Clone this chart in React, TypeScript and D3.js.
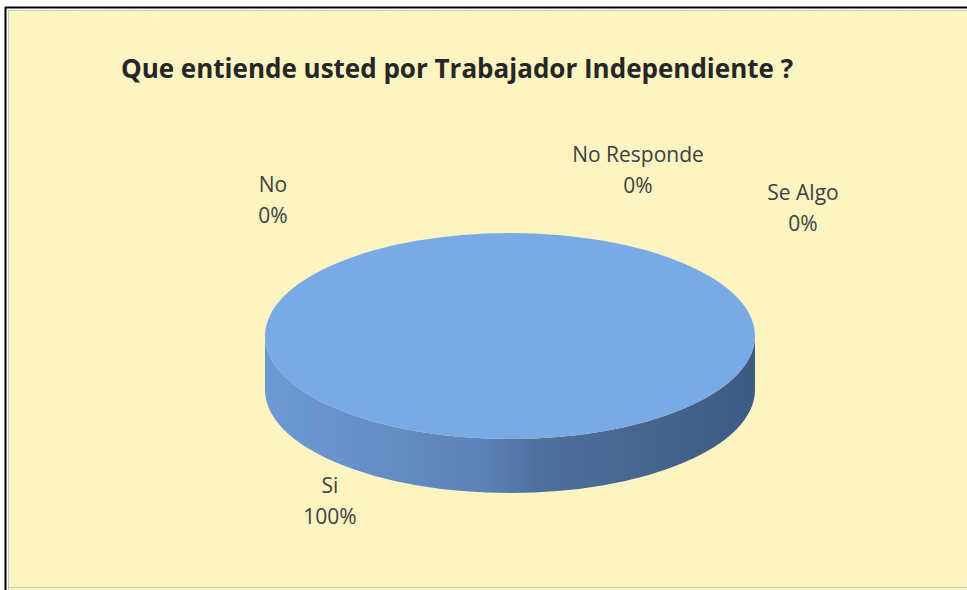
import React from "react";
import * as d3 from "d3";

const title = "Que entiende usted por Trabajador Independiente ?";
const categories = ["Si", "No", "No Responde", "Se Algo"];
const values = [100, 0, 0, 0];

// label layout (center x, first baseline y) — presentation only
const labelLayout: [number, number][] = [
  [330, 493],
  [273, 192],
  [638, 162],
  [803, 200],
];

const W = 967;
const H = 590;
const cx = 510;
const cy = 336;
const rx = 245;
const ry = 103;
const depth = 54;

const topColors = ["#79aae6", "#c0504d", "#9bbb59", "#8064a2"];

function pt(a: number, dy = 0): [number, number] {
  return [cx + rx * Math.sin(a), cy - ry * Math.cos(a) + dy];
}

export default function App() {
  const total = d3.sum(values);
  const pie = d3.pie<number>().sort(null).value((d) => d);
  const arcs = pie(values);
  const fmt = d3.format(".0%");

  const topPath = (a0: number, a1: number) => {
    if (a1 - a0 >= Math.PI * 2 - 1e-6) return null;
    const [x0, y0] = pt(a0);
    const [x1, y1] = pt(a1);
    const large = a1 - a0 > Math.PI ? 1 : 0;
    return `M${cx},${cy}L${x0},${y0}A${rx},${ry} 0 ${large} 1 ${x1},${y1}Z`;
  };

  const sidePath = (a0: number, a1: number) => {
    const s = Math.max(a0, Math.PI / 2);
    const e = Math.min(a1, (Math.PI * 3) / 2);
    if (e <= s) return null;
    const [x0, y0] = pt(s);
    const [x1, y1] = pt(e);
    const [x2, y2] = pt(e, depth);
    const [x3, y3] = pt(s, depth);
    return `M${x0},${y0}A${rx},${ry} 0 0 1 ${x1},${y1}L${x2},${y2}A${rx},${ry} 0 0 0 ${x3},${y3}Z`;
  };

  return (
    <svg
      width={W}
      height={H}
      style={{ position: "absolute", left: 0, top: 0, display: "block" }}
      xmlns="http://www.w3.org/2000/svg"
    >
      <defs>
        <linearGradient id="side" gradientUnits="userSpaceOnUse" x1={cx - rx} x2={cx + rx} y1={0} y2={0}>
          <stop offset="0" stopColor="#6d9ad4" />
          <stop offset="0.2" stopColor="#6690c9" />
          <stop offset="0.45" stopColor="#5b82b6" />
          <stop offset="0.55" stopColor="#4f719e" />
          <stop offset="0.8" stopColor="#45648d" />
          <stop offset="1" stopColor="#3d5b82" />
        </linearGradient>
        <filter id="paper" x="0" y="0" width="100%" height="100%">
          <feTurbulence type="fractalNoise" baseFrequency="0.6 0.02" numOctaves="2" seed="3" result="n" />
          <feColorMatrix
            in="n"
            type="matrix"
            values="0 0 0 0 0.93  0 0 0 0 0.84  0 0 0 0 0.5  0 0 0 1.2 -0.5"
          />
        </filter>
      </defs>
      <rect x={0} y={0} width={W} height={H} fill="#ffffff" />
      <rect x={9} y={10} width={W - 9} height={H - 10} fill="#fcf5c2" />
      <rect x={9} y={10} width={W - 9} height={H - 10} filter="url(#paper)" opacity={0.4} />
      <line x1={5} x2={W} y1={7.5} y2={7.5} stroke="#000" strokeWidth={2} />
      <line x1={5.5} x2={5.5} y1={7} y2={H} stroke="#000" strokeWidth={2} />
      <line x1={8} x2={W} y1={10.5} y2={10.5} stroke="#c8c8c0" strokeWidth={1} />
      <line x1={8.5} x2={8.5} y1={10} y2={H} stroke="#c8c8c0" strokeWidth={1} />
      <line x1={8} x2={W} y1={587.5} y2={587.5} stroke="#c8c8c0" strokeWidth={1} />

      <text
        x={457}
        y={78}
        textAnchor="middle"
        fontFamily="'Open Sans', sans-serif"
        fontWeight={700}
        fontSize={26}
        fill="#262626"
      >
        {title}
      </text>

      {arcs.map((a, i) => {
        const p = sidePath(a.startAngle, a.endAngle);
        return p ? <path key={"s" + i} d={p} fill="url(#side)" /> : null;
      })}
      {arcs.map((a, i) => {
        if (a.endAngle - a.startAngle <= 0) return null;
        const p = topPath(a.startAngle, a.endAngle);
        return p ? (
          <path key={"t" + i} d={p} fill={topColors[i]} />
        ) : (
          <ellipse key={"t" + i} cx={cx} cy={cy} rx={rx} ry={ry} fill={topColors[i]} />
        );
      })}

      {categories.map((c, i) => {
        const [lx, ly] = labelLayout[i];
        return (
          <text
            key={c}
            x={lx}
            y={ly}
            textAnchor="middle"
            fontFamily="'Open Sans', sans-serif"
            fontSize={21}
            fill="#404040"
          >
            <tspan x={lx}>{c}</tspan>
            <tspan x={lx} dy={31}>
              {fmt(values[i] / total)}
            </tspan>
          </text>
        );
      })}
    </svg>
  );
}
